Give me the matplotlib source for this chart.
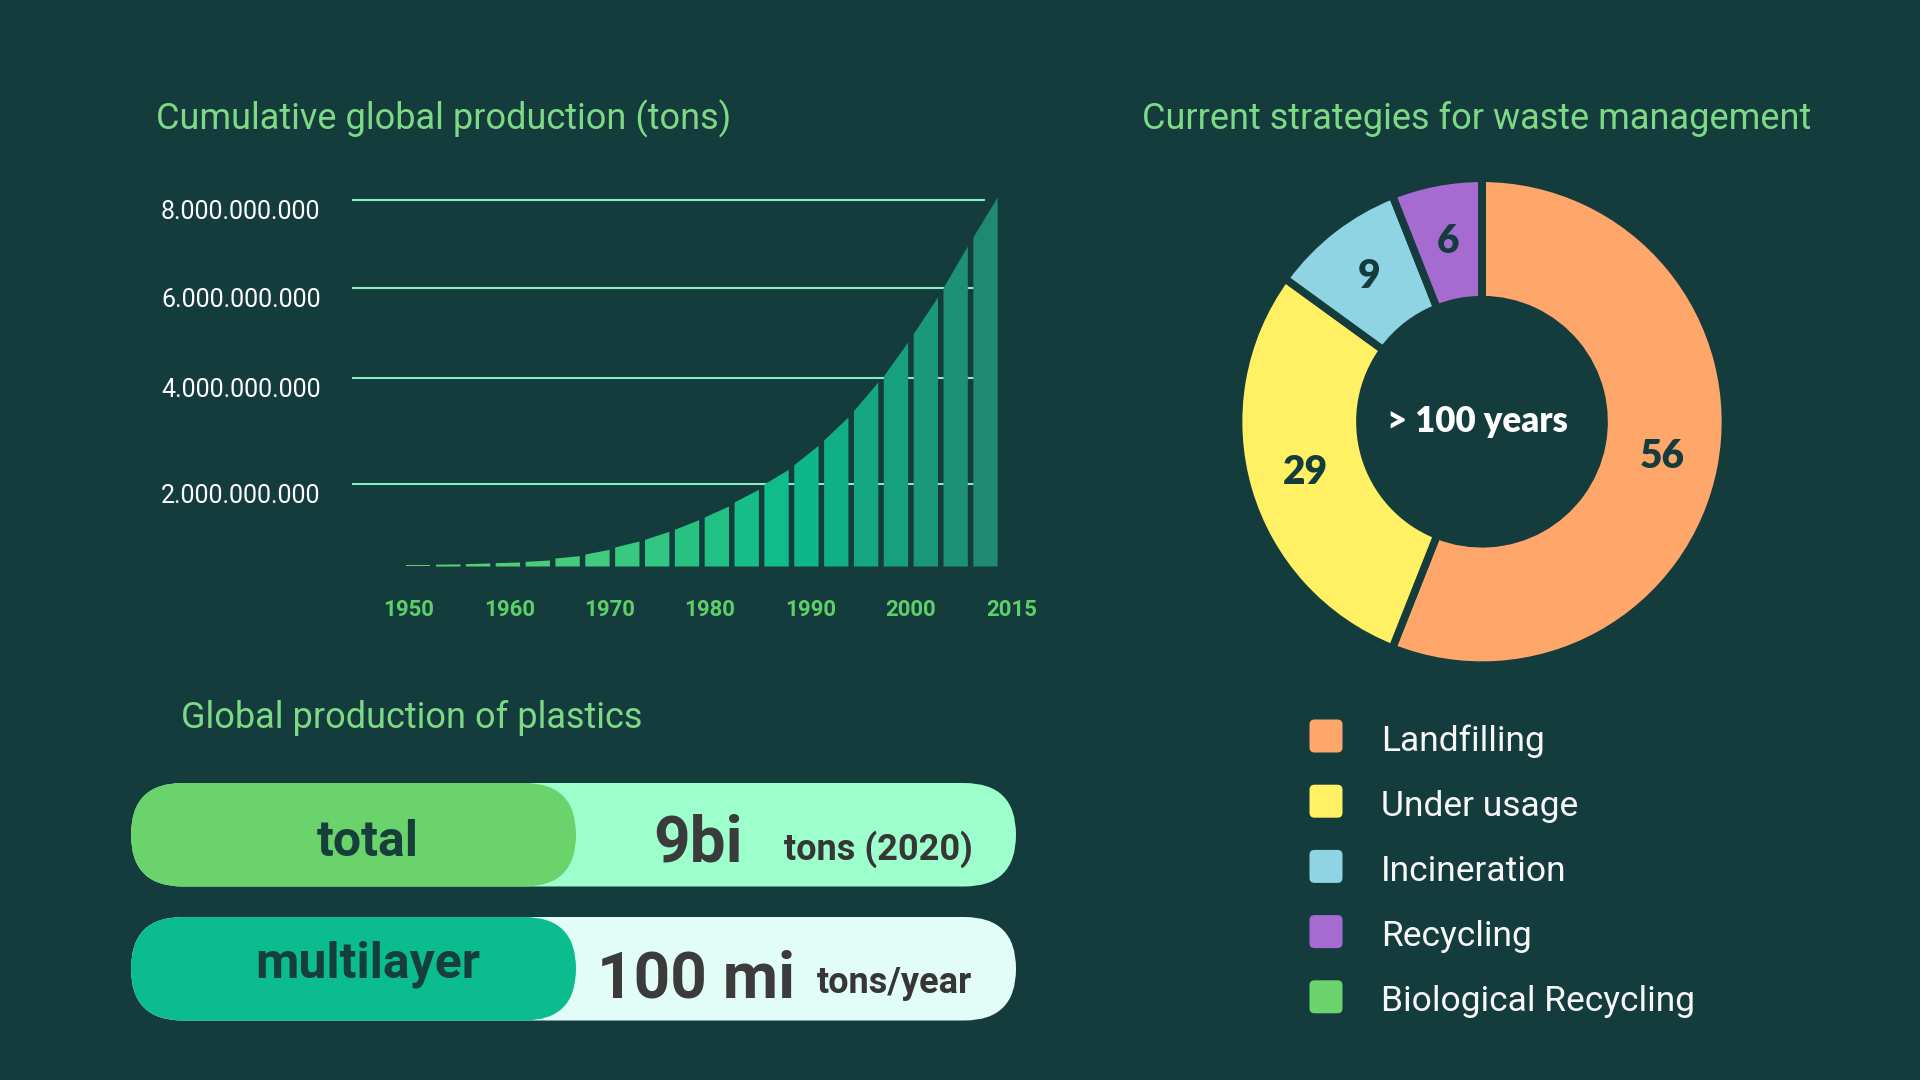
import numpy as np
import matplotlib
matplotlib.use("Agg")
import matplotlib.pyplot as plt
from matplotlib.patches import FancyBboxPatch
from matplotlib.colors import LinearSegmentedColormap

# ---------------- data ----------------
year_labels = ["1950", "1960", "1970", "1980", "1990", "2000", "2015"]
y_ticks = [2_000_000_000, 4_000_000_000, 6_000_000_000, 8_000_000_000]
y_tick_labels = ["2.000.000.000", "4.000.000.000", "6.000.000.000", "8.000.000.000"]
# cumulative production (tons) at the left and right edge of each bar
bar_left_top = [35e6, 45e6, 57e6, 81e6, 113e6, 194e6, 291e6, 462e6, 648e6, 891e6,
                1190e6, 1555e6, 1992e6, 2358e6, 2824e6, 3377e6, 4037e6, 4978e6, 6000e6, 7152e6]
bar_right_top = [35e6, 50e6, 73e6, 97e6, 146e6, 251e6, 405e6, 607e6, 842e6, 1126e6,
                 1457e6, 1862e6, 2270e6, 2723e6, 3258e6, 3918e6, 4793e6, 5793e6, 6947e6, 8061e6]

waste_labels = ["Landfilling", "Under usage", "Incineration", "Recycling", "Biological Recycling"]
waste_shares = [56, 29, 9, 6, 0]
waste_colors = ["#ffa66b", "#fff064", "#8fd4e3", "#a56bd1", "#6bd46c"]

center_text = "> 100 years"

pill_labels = ["total", "multilayer"]
pill_values = ["9bi", "100 mi"]
pill_units = ["tons (2020)", "tons/year"]

# ---------------- style ----------------
BG = "#143c3c"
TITLE = "#7ed985"
GRID = "#86eec0"
XLAB = "#5fd068"

fig = plt.figure(figsize=(19.2, 10.8), dpi=100, facecolor=BG)

# overlay axes in pixel coordinates (y down)
ov = fig.add_axes([0, 0, 1, 1], zorder=0)
ov.set_xlim(0, 1920)
ov.set_ylim(1080, 0)
ov.axis("off")
ov.patch.set_alpha(0)

tfont = dict(family="Roboto", fontsize=26, color=TITLE, va="baseline", ha="left")
ov.text(156, 129, "Cumulative global production (tons)", **tfont)
ov.text(1142, 129, "Current strategies for waste management", **tfont)
ov.text(181, 728, "Global production of plastics", **tfont)

# ---------------- bar chart ----------------
kv = np.array([0.0] + [float(t) for t in y_ticks])
kp = np.array([0.0, 82.3, 188.3, 278.3, 366.3])  # pixel height of each gridline


def fwd(v):
    v = np.asarray(v, dtype=float)
    out = np.interp(v, kv, kp)
    hi = (kp[-1] - kp[-2]) / (kv[-1] - kv[-2])
    lo = kp[1] / kv[1]
    out = np.where(v > kv[-1], kp[-1] + (v - kv[-1]) * hi, out)
    out = np.where(v < 0, v * lo, out)
    return out


def inv(p):
    p = np.asarray(p, dtype=float)
    out = np.interp(p, kp, kv)
    hi = (kv[-1] - kv[-2]) / (kp[-1] - kp[-2])
    lo = kv[1] / kp[1]
    out = np.where(p > kp[-1], kv[-1] + (p - kp[-1]) * hi, out)
    out = np.where(p < 0, p * lo, out)
    return out


ax_l, ax_r, ax_base, ax_top = 352, 1040, 566, 150
ax = fig.add_axes([ax_l / 1920, (1080 - ax_base) / 1080, (ax_r - ax_l) / 1920,
                   (ax_base - ax_top) / 1080], zorder=1)
ax.patch.set_alpha(0)
ax.set_yscale("function", functions=(fwd, inv))
pitch = 29.85
first_left = 405.7
ax.set_xlim((ax_l - first_left) / pitch, (ax_r - first_left) / pitch)
ax.set_ylim(0, float(inv(ax_base - ax_top)))

n = len(bar_left_top)
idx = np.arange(n)
bw = 0.815
cmap = LinearSegmentedColormap.from_list(
    "g", [(0, "#62d270"), (0.35, "#3cc97e"), (0.65, "#0dbb8b"), (1, "#1f8a70")])
for i in idx:
    ax.fill_between([i, i + bw], [bar_left_top[i], bar_right_top[i]], 0,
                    color=cmap(i / (n - 1)), linewidth=0, zorder=3)

xl = ax.get_xlim()[0]
ax.hlines(y_ticks, xl, n - 0.6, color=GRID, linewidth=1.5, zorder=2)

ax.set_yticks(y_ticks, y_tick_labels)
ax.tick_params(axis="y", length=0, pad=137.5, labelsize=18, labelcolor="white")
for lab in ax.get_yticklabels():
    lab.set_ha("left")
    lab.set_va("top")
    lab.set_family("Roboto")

ax.set_xticks(np.linspace(0.1, n + 0.29, len(year_labels)), year_labels)
ax.tick_params(axis="x", length=0, pad=24, labelsize=16, labelcolor=XLAB)
for lab in ax.get_xticklabels():
    lab.set_family("Roboto")
    lab.set_weight("bold")
ax.yaxis.set_minor_locator(matplotlib.ticker.NullLocator())
for s in ax.spines.values():
    s.set_visible(False)

# ---------------- donut ----------------
cx, cy, R = 1482, 421.7, 241
half = 300
dax = fig.add_axes([(cx - half) / 1920, (1080 - cy - half) / 1080, 2 * half / 1920,
                    2 * half / 1080], zorder=1)
dax.set_xlim(-half / R, half / R)
dax.set_ylim(-half / R, half / R)
dax.axis("off")
wedges, _ = dax.pie(waste_shares, colors=waste_colors, startangle=90, counterclock=False,
                    radius=1.0145,
                    wedgeprops=dict(width=0.506, edgecolor=BG, linewidth=5.5))
for w, v in zip(wedges, waste_shares):
    if v <= 0:
        continue
    a = np.deg2rad((w.theta1 + w.theta2) / 2)
    dax.text(0.765 * np.cos(a), 0.765 * np.sin(a), str(v), ha="center", va="center",
             fontsize=28, family="Lato", weight="heavy", color=BG)
dax.text(-0.02, 0.0, center_text, ha="center", va="center", fontsize=25,
         family="Lato", weight="heavy", color="white")

# legend
leg_y0, leg_step = 736, 65.2
for k, (lab, col) in enumerate(zip(waste_labels, waste_colors)):
    yc = leg_y0 + k * leg_step
    ov.add_patch(FancyBboxPatch((1309.5, yc - 16.5), 33, 33,
                                boxstyle="round,pad=0,rounding_size=5",
                                facecolor=col, edgecolor="none"))
    ov.text(1381, yc + 14.5, lab, family="Roboto", fontsize=25.5, color="#f7f7f7",
            va="baseline", ha="left")

# ---------------- pills ----------------
pill_y = [783, 917]
pill_h = 103.5
pill_dark = ["#6bd36b", "#0bbd8e"]
pill_light = ["#9cffcc", "#e2fcf7"]
lab_base = [856, 977]
val_x = [653, 597]
val_base = [862, 998]
unit_x = [784.5, 816.5]
unit_base = [860, 993]
for k in range(2):
    y = pill_y[k]
    ov.add_patch(FancyBboxPatch((131, y), 885, pill_h,
                                boxstyle=f"round,pad=0,rounding_size={pill_h / 2}",
                                facecolor=pill_light[k], edgecolor="none"))
    ov.add_patch(FancyBboxPatch((131, y), 445, pill_h,
                                boxstyle=f"round,pad=0,rounding_size={pill_h / 2}",
                                facecolor=pill_dark[k], edgecolor="none"))
    ov.text(367.5, lab_base[k], pill_labels[k], family="Roboto", weight="bold",
            fontsize=36, color="#163f3b", ha="center", va="baseline")
    ov.text(val_x[k], val_base[k], pill_values[k], family="Roboto", weight="bold",
            fontsize=46, color="#3b3b3b", ha="left", va="baseline")
    ov.text(unit_x[k], unit_base[k], pill_units[k], family="Roboto", weight="bold",
            fontsize=26, color="#363636", ha="left", va="baseline")

fig.savefig("out.png", dpi=100, facecolor=BG)
